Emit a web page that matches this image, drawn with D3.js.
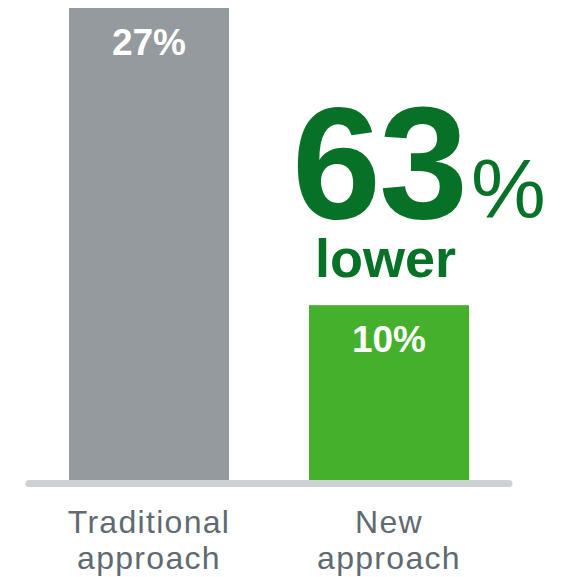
<!DOCTYPE html>
<html lang="en">

<head>
    <meta charset="utf-8">
    <title>Traditional vs New approach</title>
    <style>
        body {
            margin: 0;
            background-color: white;
        }

        svg text {
            font-family: "Liberation Sans", Arial, sans-serif;
        }

        .bar-label {
            fill: white;
            font-weight: bold;
            font-size: 37px;
        }

        .cat-label {
            fill: #5F6A71;
            font-size: 32px;
            letter-spacing: 1.3px;
        }

        .callout {
            fill: #077227;
        }
    </style>
</head>

<body>
    <script src="https://d3js.org/d3.v7.min.js"></script>
    <svg width="572" height="577"></svg>

    <script>
        // chart data
        var categories = ["Traditional approach", "New approach"];
        var values = [27, 10];
        var valueLabels = ["27%", "10%"];
        var barColors = ["#949A9D", "#44B02B"];
        var calloutNumber = "63";
        var calloutUnit = "%";
        var calloutWord = "lower";

        var svg = d3.select("svg");

        // scales
        var x = d3.scaleBand()
            .domain(categories)
            .range([29, 509])
            .paddingInner(1 / 3)
            .paddingOuter(1 / 6);

        var y = d3.scaleLinear()
            .domain([0, 27])
            .range([480, 8]);

        // bars
        svg.selectAll(".bar")
            .data(values)
            .enter()
            .append("rect")
            .attr("class", "bar")
            .attr("x", function(d, i) { return x(categories[i]); })
            .attr("y", function(d) { return y(d); })
            .attr("width", x.bandwidth())
            .attr("height", function(d) { return y(0) - y(d); })
            .attr("fill", function(d, i) { return barColors[i]; });

        // baseline
        svg.append("line")
            .attr("x1", x.range()[0])
            .attr("x2", x.range()[1])
            .attr("y1", y(0) + 3.5)
            .attr("y2", y(0) + 3.5)
            .attr("stroke", "#CDD1D3")
            .attr("stroke-width", 7)
            .attr("stroke-linecap", "round");

        // value labels inside bars
        svg.selectAll(".bar-label")
            .data(values)
            .enter()
            .append("text")
            .attr("class", "bar-label")
            .attr("x", function(d, i) { return x(categories[i]) + x.bandwidth() / 2; })
            .attr("y", function(d) { return y(d) + 47; })
            .attr("text-anchor", "middle")
            .text(function(d, i) { return valueLabels[i]; });

        // category labels, two lines each
        var cat = svg.selectAll(".cat-label")
            .data(categories)
            .enter()
            .append("text")
            .attr("class", "cat-label")
            .attr("text-anchor", "middle")
            .attr("x", function(d) { return x(d) + x.bandwidth() / 2; })
            .attr("y", 533);

        cat.selectAll("tspan")
            .data(function(d) { return d.split(" "); })
            .enter()
            .append("tspan")
            .attr("x", function() { return d3.select(this.parentNode).attr("x"); })
            .attr("dy", function(d, i) { return i === 0 ? 0 : 36; })
            .text(function(d) { return d; });

        // callout above the new bar
        var callout = svg.append("text")
            .attr("class", "callout")
            .attr("x", 292)
            .attr("y", 218);
        callout.append("tspan")
            .attr("font-size", "160px")
            .attr("font-weight", "bold")
            .attr("letter-spacing", "-2px")
            .text(calloutNumber);
        callout.append("tspan")
            .attr("font-size", "84px")
            .attr("dx", 5)
            .text(calloutUnit);

        svg.append("text")
            .attr("class", "callout")
            .attr("x", 315)
            .attr("y", 277)
            .attr("font-size", "54px")
            .attr("font-weight", "bold")
            .text(calloutWord);
    </script>
</body>

</html>
